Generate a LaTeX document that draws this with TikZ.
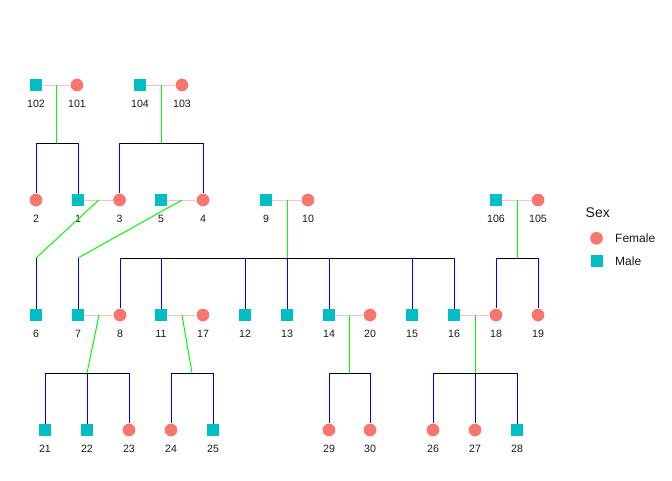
\documentclass[tikz,border=0pt]{standalone}
\usepackage{fontspec}
\setmainfont{Liberation Sans}
\usetikzlibrary{calc}
\definecolor{femfill}{HTML}{F8766D}
\definecolor{malefill}{HTML}{00BFC4}
\definecolor{marline}{HTML}{FFC0CB}
\definecolor{descline}{HTML}{00FF00}
\definecolor{childline}{HTML}{0000FF}
\definecolor{labtext}{HTML}{1A1A1A}

\tikzset{
  male/.style={rectangle, fill=malefill, minimum size=12pt, inner sep=0pt},
  female/.style={circle, fill=femfill, minimum size=12.7pt, inner sep=0pt},
  lab/.style={font=\fontsize{10.6}{12}\selectfont, text=labtext, inner sep=0pt},
  mate/.style={draw=marline, line width=1pt},
  desc/.style={draw=descline, line width=1pt},
  sib/.style={draw=black, line width=1pt},
  kid/.style={draw=childline, line width=1pt},
}

\begin{document}
\begin{tikzpicture}[x=1pt, y=-1pt]
\useasboundingbox (0,0) rectangle (672,480);
\fill[white] (0,0) rectangle (672,480);

% individuals: id / x / y
\foreach \id/\x/\y in {102/36/85, 104/140/85,
    1/78/200, 5/161/200, 9/266/200, 106/496/200,
    6/36/315, 7/78/315, 11/161/315, 12/245/315, 13/287/315, 14/329/315,
    15/412/315, 16/454/315,
    21/45/430, 22/87/430, 25/213/430, 28/517/430}
  {\node[male] (n\id) at (\x,\y) {};
   \node[lab] (t\id) at (\x,\y+18.5) {\id};}
\foreach \id/\x/\y in {101/77/85, 103/182/85,
    2/36/200, 3/119.5/200, 4/203/200, 10/308/200, 105/538/200,
    8/120/315, 17/203/315, 20/370/315, 18/496/315, 19/538/315,
    23/129/430, 24/171/430, 29/329/430, 30/370/430, 26/433/430, 27/475/430}
  {\node[female] (n\id) at (\x,\y) {};
   \node[lab] (t\id) at (\x,\y+18.5) {\id};}

% marriages
\foreach \a/\b in {102/101, 104/103, 1/3, 5/4, 9/10, 106/105, 7/8, 11/17, 14/20, 16/18}
  {\draw[mate] (n\a) -- (n\b);
   \coordinate (m\a) at ($(n\a.center)!0.5!(n\b.center)$);}

% sibship drop points
\coordinate (s102) at (56.5,143);
\coordinate (s104) at (161,143);
\coordinate (s1) at (36,258);
\coordinate (s5) at (78,258);
\coordinate (s9) at (287,258);
\coordinate (s106) at (517,258);
\coordinate (s7) at (87,373);
\coordinate (s11) at (192,373);
\coordinate (s14) at (349.5,373);
\coordinate (s16) at (475,373);

% descent lines from each marriage
\foreach \a in {102, 104, 1, 5, 9, 106, 7, 11, 14, 16}
  {\draw[desc] (m\a) -- (s\a);}

% sibship bars
\draw[sib] (n2 |- s102) -- (n1 |- s102);
\draw[sib] (n3 |- s104) -- (n4 |- s104);
\draw[sib] (n8 |- s9) -- (n16 |- s9);
\draw[sib] (n18 |- s106) -- (n19 |- s106);
\draw[sib] (n21 |- s7) -- (n23 |- s7);
\draw[sib] (n24 |- s11) -- (n25 |- s11);
\draw[sib] (n29 |- s14) -- (n30 |- s14);
\draw[sib] (n26 |- s16) -- (n28 |- s16);

% child lines
\foreach \c/\s in {2/s102, 1/s102, 3/s104, 4/s104, 6/s1, 7/s5,
    8/s9, 11/s9, 12/s9, 13/s9, 14/s9, 15/s9, 16/s9, 18/s106, 19/s106,
    21/s7, 22/s7, 23/s7, 24/s11, 25/s11, 29/s14, 30/s14, 26/s16, 27/s16, 28/s16}
  {\draw[kid] (n\c |- \s) -- (n\c);}

% legend
\node[anchor=west, inner sep=0pt, font=\fontsize{14}{16}\selectfont, text=labtext] (legtitle) at (585.5,213) {Sex};
\node[female] (legf) at (596.5,238.3) {};
\node[male] (legm) at (596.5,261) {};
\node[anchor=west, inner sep=0pt, font=\fontsize{12}{14}\selectfont, text=labtext] (legft) at (615,238.3) {Female};
\node[anchor=west, inner sep=0pt, font=\fontsize{12}{14}\selectfont, text=labtext] (legmt) at (615,261) {Male};
\end{tikzpicture}
\end{document}
